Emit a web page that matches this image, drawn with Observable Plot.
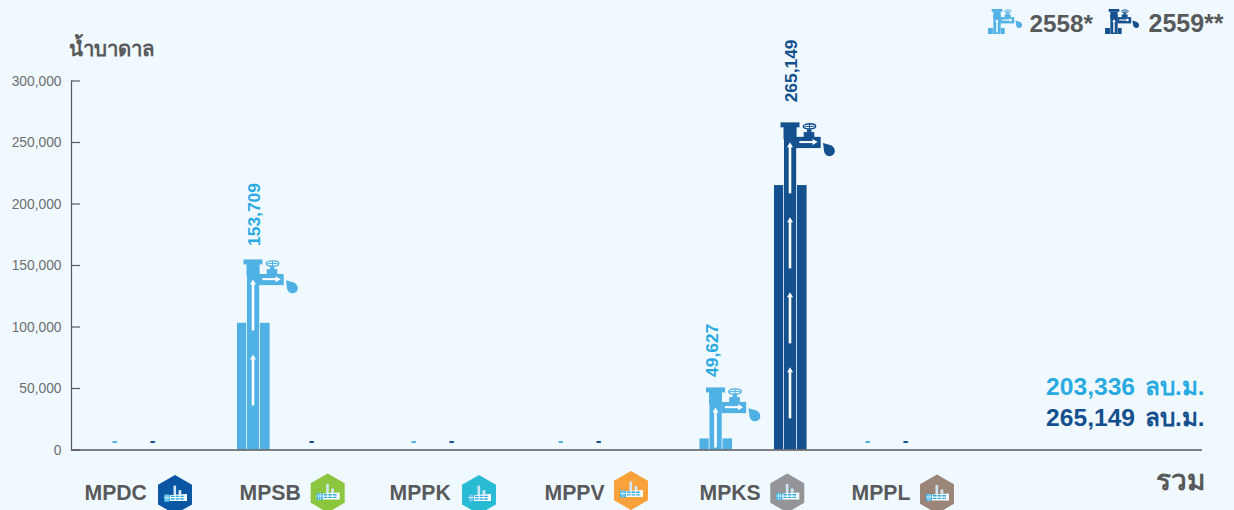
<!DOCTYPE html>
<html>
<head>
<meta charset="utf-8">
<script src="https://cdn.jsdelivr.net/npm/d3@7"></script>
<script src="https://cdn.jsdelivr.net/npm/@observablehq/plot@0.6"></script>
<style>
html,body{margin:0;padding:0;background:#F0F9FF;overflow:hidden}
svg{display:block}
</style>
</head>
<body>
<div id="chart"></div>
<script>
const categories = ["MPDC","MPSB","MPPK","MPPV","MPKS","MPPL"];
const values2558 = [null,153709,null,null,49627,null];
const values2559 = [null,null,null,null,265149,null];
const shoulders2558 = [null,103000,null,null,9000,null];
const shoulders2559 = [null,null,null,null,215000,null];
const seriesNames = ["2558*","2559**"];
const totals = ["203,336","265,149"];
const totalUnit = "ลบ.ม.";
const yTicks = [0,50000,100000,150000,200000,250000,300000];
const yTitle = "น้ำบาดาล";
const totalLabel = "รวม";

// layout, separate from the values
const slot2558 = [114,253,413,560,715.5,867];
const slot2559 = [152,311,451,598,790,905];
const labelX = [84,239,389,544,699,851];
const hexX = [175,327.7,479,631,787.3,937];
const hexY = [494.6,493,494.6,490.5,493,494];
const hexColors = ["#0A56A3","#8CC63F","#2ABBD4","#F9A13A","#939598","#9B8579"];
const gaps2558 = [0,15,0,0,12,0];
const gaps2559 = [0,0,0,0,21.5,0];
const shift2558 = [0,0.5,0,0,-3.5,0];
const shift2559 = [0,0,0,0,0.5,0];
const light = "#50B1E4", dark = "#14508E", lightText = "#29ABE2", gray = "#58595B", bg = "#F0F9FF";
const font = "'Liberation Sans','Noto Sans',sans-serif";

const rows = [];
categories.forEach((c,i)=>{
  rows.push({c,s:0,v:values2558[i],sh:shoulders2558[i],cx:slot2558[i],gap:gaps2558[i],shift:shift2558[i],col:light,txt:lightText});
  rows.push({c,s:1,v:values2559[i],sh:shoulders2559[i],cx:slot2559[i],gap:gaps2559[i],shift:shift2559[i],col:dark,txt:dark});
});
const bars = rows.filter(d=>d.v!=null);
const empties = rows.filter(d=>d.v==null);

const svgNS = "http://www.w3.org/2000/svg";
function el(parent,name,attrs){
  const n=document.createElementNS(svgNS,name);
  for(const k in attrs)n.setAttribute(k,attrs[k]);
  parent.appendChild(n);return n;
}
// tap head, origin at the stem centre / cap top
function tapHead(g,col){
  el(g,"rect",{x:-9.5,y:0,width:19,height:5,fill:col});
  el(g,"rect",{x:-6.5,y:5,width:13,height:12,fill:col});
  el(g,"rect",{x:6,y:14.5,width:24.7,height:11.2,fill:col});
  el(g,"rect",{x:13.7,y:9.7,width:10.6,height:5,fill:col});
  el(g,"rect",{x:17,y:7,width:4.5,height:3,fill:col});
  el(g,"ellipse",{cx:19.5,cy:4,rx:6.2,ry:2.6,fill:"none",stroke:col,"stroke-width":1.4});
  el(g,"path",{d:"M14.6 4H24.4M19.5 1.4V6.6",stroke:col,"stroke-width":1,fill:"none"});
  el(g,"path",{d:"M9.3 19.7H23.5",stroke:"#fff","stroke-width":2,fill:"none"});
  el(g,"path",{d:"M22.5 16.7L27.7 19.7L22.5 22.7Z",fill:"#fff"});
  el(g,"path",{d:"M33 20.7L41 23C46.5 25.5 46 33.5 40 33.8C35.5 34 33.8 30 33.8 27Z",fill:col});
}
function arrowUp(g,cx,top,len){
  el(g,"rect",{x:cx-1.3,y:top+4,width:2.6,height:len-4,fill:"#fff"});
  el(g,"path",{d:`M${cx-3} ${top+5}L${cx} ${top}L${cx+3} ${top+5}Z`,fill:"#fff"});
}
function factory(g){
  el(g,"rect",{x:-1.5,y:-9,width:2.6,height:12,fill:"#CFE6F5"});
  el(g,"rect",{x:3.5,y:-4.5,width:2.8,height:7,fill:"#CFE6F5"});
  el(g,"path",{d:"M-11 1L12 -0.5V6.5H-11Z",fill:"#fff"});
  el(g,"rect",{x:-11,y:0,width:6,height:7,fill:"#29ABE2"});
  el(g,"path",{d:"M-9 0V7M-7 0V7M-11 3H-5",stroke:"#fff","stroke-width":0.7,fill:"none"});
  el(g,"path",{d:"M-4 1.8H10M-4 4.4H10",stroke:"#29ABE2","stroke-width":1.4,"stroke-dasharray":"3.6 1",fill:"none"});
}
function hexPath(r){
  const pts=d3.range(6).map(i=>{const a=Math.PI/3*i-Math.PI/2;return [r*Math.cos(a),r*Math.sin(a)];});
  return "M"+pts.map(p=>p.join(" ")).join("L")+"Z";
}

const taps = (index,{x,y})=>{
  const g=document.createElementNS(svgNS,"g");
  const base=y(0);
  for(const d of bars){
    const top=y(d.v)-1;
    const gg=el(g,"g",{transform:`translate(${x(d.cx)},${top})`});
    tapHead(gg,d.col);
    for(let a=top+20;base-a>=30;a+=75){
      arrowUp(g,x(d.cx),a,Math.min(51,base-a-2));
    }
  }
  return g;
};
const decorations = ()=>{
  const g=document.createElementNS(svgNS,"g");
  categories.forEach((c,i)=>{
    const gg=el(g,"g",{transform:`translate(${hexX[i]},${hexY[i]})`});
    el(gg,"path",{d:hexPath(19.6),fill:hexColors[i]});
    factory(gg);
  });
  [[997,9,light],[1114,9,dark]].forEach(([cx,top,col])=>{
    const gg=el(g,"g",{transform:`translate(${cx},${top}) scale(0.56)`});
    tapHead(gg,col);
    el(gg,"rect",{x:-6.5,y:10,width:13,height:34.6,fill:col});
    el(gg,"rect",{x:-16,y:34,width:8.8,height:10.6,fill:col});
    el(gg,"rect",{x:7.2,y:34,width:6.5,height:10.6,fill:col});
    arrowUp(gg,0,18,24);
  });
  return g;
};

const shoulderRects = bars.flatMap(d=>[
  {...d,a:d.cx-16,b:d.cx-6.8,top:d.sh},
  {...d,a:d.cx-6,b:d.cx+6.2,top:d.v},
  {...d,a:d.cx+7,b:d.cx+16.6,top:d.sh}
]);

const plot = Plot.plot({
  width:1234,height:510,
  marginLeft:71,marginRight:30,marginTop:80.5,marginBottom:60.5,
  style:{background:bg,fontFamily:font,overflow:"hidden"},
  x:{domain:[71,1204],range:[71,1204],axis:null},
  y:{domain:[0,300000],axis:null},
  marks:[
    Plot.ruleX([71],{y1:0,y2:300000,stroke:gray,strokeWidth:1.2}),
    Plot.ruleY(yTicks,{x1:71,x2:80,stroke:gray,strokeWidth:1.2}),
    Plot.axisY({ticks:yTicks,tickFormat:d3.format(","),tickSize:0,tickPadding:10,dy:0.5,fontSize:13.8,color:"#6D6E71",label:null,anchor:"left"}),
    Plot.rect(shoulderRects,{x1:"a",x2:"b",y1:0,y2:"top",fill:"col"}),
    taps,
    Plot.ruleY([0],{x1:71,x2:1202,stroke:gray,strokeWidth:1.6}),
    Plot.text(empties,{x:"cx",y:0,text:()=>"-",dy:-9,fontSize:17,fontWeight:700,fill:d=>d.col}),
    ...bars.map(d=>Plot.text([d],{x:"cx",y:"v",text:r=>d3.format(",")(r.v),rotate:-90,textAnchor:"start",dx:d.shift,dy:-d.gap,fontSize:17.4,fontWeight:700,fill:d.txt})),
    Plot.text(categories,{x:(c,i)=>labelX[i],y:0,text:c=>c,textAnchor:"start",dy:43,fontSize:21.2,fontWeight:700,fill:gray}),
    decorations,
    Plot.text([yTitle],{x:68.5,y:300000,text:t=>t,textAnchor:"start",dy:-31.5,fontSize:20.4,fontWeight:700,fill:gray}),
    Plot.text([totals[0]],{x:1134.5,y:0,text:t=>t,textAnchor:"end",dy:-63,fontSize:24.6,fontWeight:700,fill:lightText}),
    Plot.text([totals[1]],{x:1134.5,y:0,text:t=>t,textAnchor:"end",dy:-32,fontSize:24.6,fontWeight:700,fill:dark}),
    Plot.text([totalUnit],{x:1204,y:0,text:t=>t,textAnchor:"end",dy:-63,fontSize:24.3,fontWeight:700,fill:lightText}),
    Plot.text([totalUnit],{x:1204,y:0,text:t=>t,textAnchor:"end",dy:-32,fontSize:24.3,fontWeight:700,fill:dark}),
    Plot.text([totalLabel],{x:1204,y:0,text:t=>t,textAnchor:"end",dy:31,fontSize:28,fontWeight:700,fill:gray}),
    Plot.text([seriesNames[0]],{x:1029,y:300000,text:t=>t,textAnchor:"start",dy:-57,fontSize:24.3,fontWeight:700,fill:gray}),
    Plot.text([seriesNames[1]],{x:1148,y:300000,text:t=>t,textAnchor:"start",dy:-57,fontSize:25,fontWeight:700,fill:gray})
  ]
});
document.getElementById("chart").appendChild(plot);
</script>
</body>
</html>
